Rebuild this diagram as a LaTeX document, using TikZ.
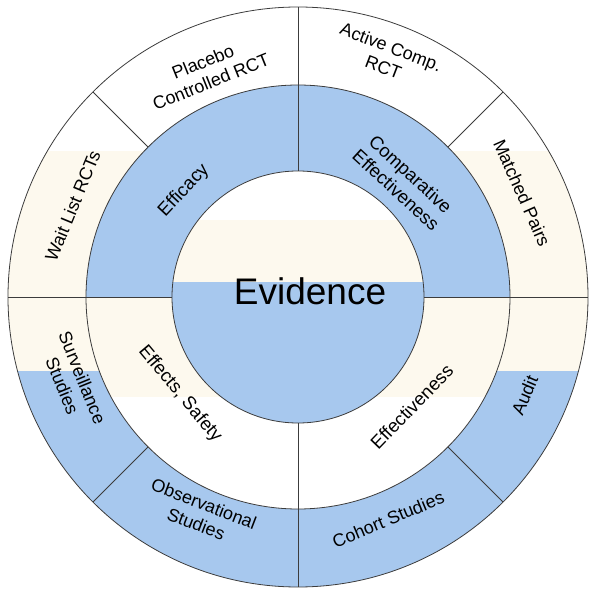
\documentclass[tikz,border=0pt]{standalone}
\usepackage{fontspec}
\setmainfont{Liberation Sans}
\usepackage{tikz}
\usetikzlibrary{positioning}
\definecolor{ringblue}{RGB}{167,200,238}
\definecolor{ringcream}{RGB}{253,249,238}
\definecolor{rimline}{RGB}{60,60,60}

\tikzset{
  rim/.style={draw=rimline, line width=0.8pt},
  outerlabel/.style={align=center, inner sep=0pt, font=\fontsize{18}{21.5}\selectfont},
  ringlabel/.style={align=center, inner sep=0pt, font=\fontsize{18.5}{21.5}\selectfont},
}

\begin{document}
\begin{tikzpicture}[x=1pt, y=1pt]
      \useasboundingbox (-298, -300) rectangle (302, 297);

      % outer ring
      \begin{scope}
        \clip (0, 0) circle (290);
        \fill[white] (-300, 146) rectangle (300, 300);
        \fill[ringcream] (-300, -74) rectangle (300, 146);
        \fill[ringblue] (-300, -300) rectangle (300, -74);
      \end{scope}

      % middle ring
      \begin{scope}
        \clip (0, 0) circle (212);
        \fill[ringblue] (-220, 0) rectangle (220, 220);
        \fill[ringcream] (-220, -100) rectangle (220, 0);
        \fill[white] (-220, -220) rectangle (220, -100);
      \end{scope}

      % inner circle
      \begin{scope}
        \clip (0, 0) circle (126);
        \fill[white] (-130, 77) rectangle (130, 130);
        \fill[ringcream] (-130, 15) rectangle (130, 77);
        \fill[ringblue] (-130, -130) rectangle (130, 15);
      \end{scope}

      \foreach \r in {126, 212, 290}{
        \draw[rim] (0, 0) circle (\r);
      }

      \foreach \a in {0, 90, 180, 270}{
        \draw[rim] (\a:126) -- (\a:290);
      }

      \foreach \a in {45, 135, 225, 315}{
        \draw[rim] (\a:212) -- (\a:290);
      }

      \node[font=\fontsize{37}{40}\selectfont] (evidence) at (12, 6) {Evidence};

      \node[ringlabel, rotate=47] (efficacy) at (137:156) {Efficacy};
      \node[ringlabel, rotate=-42.5] (compeff) at (47.5:156) {Comparative\\Effectiveness};
      \node[ringlabel, rotate=-50] (safety) at (219.5:153) {Effects, Safety};
      \node[ringlabel, rotate=46] (effectiveness) at (316:158) {Effectiveness};

      \node[outerlabel, rotate=22] (placebo) at (112:243) {Placebo\\Controlled RCT};
      \node[outerlabel, rotate=67.5] (waitlist) at (158:243) {Wait List RCTs};
      \node[outerlabel, rotate=-21] (activecomp) at (69.6:256) {Active Comp.\\RCT};
      \node[outerlabel, rotate=-66] (matched) at (24.9:247) {Matched Pairs};
      \node[outerlabel, rotate=67] (audit) at (-23.4:247) {Audit};
      \node[outerlabel, rotate=22.5] (cohort) at (-67.9:240) {Cohort Studies};
      \node[outerlabel, rotate=-21] (observational) at (245.7:238) {Observational\\Studies};
      \node[outerlabel, rotate=-68] (surveillance) at (200.6:241) {Surveillance\\Studies};

    \end{tikzpicture}
\end{document}
